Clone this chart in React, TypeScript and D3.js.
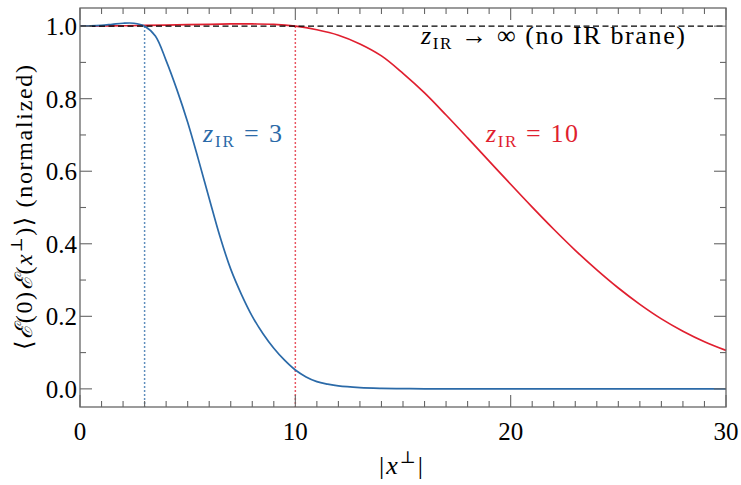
import React from 'react';
import * as d3 from 'd3';

const W = 741;
const H = 485;
const PLOT = { left: 80, right: 726, top: 8, bottom: 407 };

const xDomain = [0, 30];
const yDomain = [-0.05, 1.05];
const xMajorTicks = [0, 10, 20, 30];
const xMinorTicks = d3.range(0, 31, 1);
const yMajorTicks = [0, 0.2, 0.4, 0.6, 0.8, 1.0];
const yMinorTicks = [0.1, 0.3, 0.5, 0.7, 0.9];

const blueX = [0, 0.5, 1, 1.5, 2, 2.5, 3, 3.5, 4, 4.5, 5, 5.5, 6, 6.5, 7, 7.5, 8, 8.5, 9, 9.5, 10, 10.5, 11, 11.5, 12, 13, 14, 15, 16, 18, 20, 25, 30];
const blueY = [1.0, 1.0005, 1.002, 1.005, 1.008, 1.008, 1.0, 0.973, 0.905, 0.825, 0.735, 0.632, 0.525, 0.42, 0.33, 0.26, 0.2, 0.152, 0.112, 0.079, 0.052, 0.033, 0.02, 0.013, 0.008, 0.0035, 0.0015, 0.0006, 0.0002, 0, 0, 0, 0];

const redX = [0, 1, 2, 3, 4, 5, 6, 7, 8, 9, 10, 11, 12, 13, 14, 15, 16, 17, 18, 19, 20, 21, 22, 23, 24, 25, 26, 27, 28, 29, 30];
const redY = [1.0, 1.0005, 1.001, 1.002, 1.003, 1.004, 1.005, 1.006, 1.006, 1.005, 1.0, 0.99, 0.975, 0.951, 0.918, 0.87, 0.816, 0.755, 0.692, 0.628, 0.564, 0.501, 0.44, 0.382, 0.328, 0.278, 0.233, 0.193, 0.159, 0.13, 0.106];

const noBraneX = [0, 30];
const noBraneY = [1, 1];

const braneBlue = 3;
const braneRed = 10;

const BLUE = '#2b6aa8';
const RED = '#e01f2f';
const FONT = '"Liberation Serif", "DejaVu Serif", serif';

export default function App() {
  const x = d3.scaleLinear().domain(xDomain).range([PLOT.left, PLOT.right]);
  const y = d3.scaleLinear().domain(yDomain).range([PLOT.bottom, PLOT.top]);

  const mk = (xs: number[], ys: number[]) =>
    d3
      .line<number>()
      .x((d) => x(d))
      .y((_, i) => y(ys[i]))
      .curve(d3.curveCatmullRom.alpha(0.5))(xs) || '';

  const axisColor = '#666';
  const majorLen = 12;
  const minorLen = 6;
  const tf = { fontFamily: FONT };

  return (
    <svg
      width={W}
      height={H}
      style={{ position: 'absolute', left: 0, top: 0, background: '#fff', fontFamily: FONT }}
    >
      {/* reference vertical dotted lines */}
      <line x1={x(braneBlue)} x2={x(braneBlue)} y1={y(1)} y2={PLOT.bottom} stroke={BLUE} strokeWidth={1.5} strokeDasharray="1.5,2.5" />
      <line x1={x(braneRed)} x2={x(braneRed)} y1={y(1)} y2={PLOT.bottom} stroke={RED} strokeWidth={1.5} strokeDasharray="1.5,2.5" />

      {/* curves */}
      <path d={mk(redX, redY)} fill="none" stroke={RED} strokeWidth={1.7} />
      <path d={mk(blueX, blueY)} fill="none" stroke={BLUE} strokeWidth={1.7} />
      <path d={mk(noBraneX, noBraneY)} fill="none" stroke="#000" strokeWidth={1.3} strokeDasharray="6,3.5" />

      {/* frame */}
      <rect x={PLOT.left} y={PLOT.top} width={PLOT.right - PLOT.left} height={PLOT.bottom - PLOT.top} fill="none" stroke={axisColor} strokeWidth={1.3} />

      {/* x ticks */}
      {xMinorTicks.map((t) => {
        const len = xMajorTicks.includes(t) ? majorLen : minorLen;
        return (
          <g key={'xt' + t}>
            <line x1={x(t)} x2={x(t)} y1={PLOT.bottom} y2={PLOT.bottom - len} stroke={axisColor} strokeWidth={1.1} />
            <line x1={x(t)} x2={x(t)} y1={PLOT.top} y2={PLOT.top + len} stroke={axisColor} strokeWidth={1.1} />
          </g>
        );
      })}
      {/* y ticks */}
      {[...yMajorTicks, ...yMinorTicks].map((t) => {
        const len = yMajorTicks.includes(t) ? majorLen : minorLen;
        return (
          <g key={'yt' + t}>
            <line x1={PLOT.left} x2={PLOT.left + len} y1={y(t)} y2={y(t)} stroke={axisColor} strokeWidth={1.1} />
            <line x1={PLOT.right} x2={PLOT.right - len} y1={y(t)} y2={y(t)} stroke={axisColor} strokeWidth={1.1} />
          </g>
        );
      })}

      {/* x tick labels */}
      {xMajorTicks.map((t) => (
        <text key={'xl' + t} x={x(t)} y={440} textAnchor="middle" fontSize={25} fill="#000" style={tf}>
          {t}
        </text>
      ))}
      {/* y tick labels */}
      {yMajorTicks.map((t) => (
        <text key={'yl' + t} x={77} y={y(t) + 9} textAnchor="end" fontSize={25} fill="#000" style={tf}>
          {d3.format('.1f')(t)}
        </text>
      ))}

      {/* x axis label */}
      <text x={379} y={474} fontSize={26} fill="#000" style={tf} textLength={44} lengthAdjust="spacing">
        |<tspan fontStyle="italic">x</tspan>
        <tspan fontSize={17} dy={-11}>⊥</tspan>
        <tspan dy={11}>|</tspan>
      </text>

      {/* y axis label */}
      <text
        transform={`translate(32, 350) rotate(-90)`}
        fontSize={24}
        fill="#000"
        style={tf}
        textLength={285}
        lengthAdjust="spacing"
      >
        ⟨<tspan fontStyle="italic">ℰ</tspan>(0)<tspan fontStyle="italic">ℰ</tspan>(<tspan fontStyle="italic">x</tspan>
        <tspan fontSize={16} dy={-10}>⊥</tspan>
        <tspan dy={10}>)⟩ (normalized)</tspan>
      </text>

      {/* annotations */}
      <text x={421} y={44} fontSize={26} fill="#000" style={tf} textLength={264} lengthAdjust="spacing">
        <tspan fontStyle="italic">z</tspan>
        <tspan fontSize={17} dy={5}>IR</tspan>
        <tspan dy={-5}> → ∞ (no IR brane)</tspan>
      </text>
      <text x={203} y={142} fontSize={26} fill={BLUE} style={tf} textLength={79} lengthAdjust="spacing">
        <tspan fontStyle="italic">z</tspan>
        <tspan fontSize={17} dy={5}>IR</tspan>
        <tspan dy={-5}> = 3</tspan>
      </text>
      <text x={486} y={142} fontSize={26} fill={RED} style={tf} textLength={92} lengthAdjust="spacing">
        <tspan fontStyle="italic">z</tspan>
        <tspan fontSize={17} dy={5}>IR</tspan>
        <tspan dy={-5}> = 10</tspan>
      </text>
    </svg>
  );
}
